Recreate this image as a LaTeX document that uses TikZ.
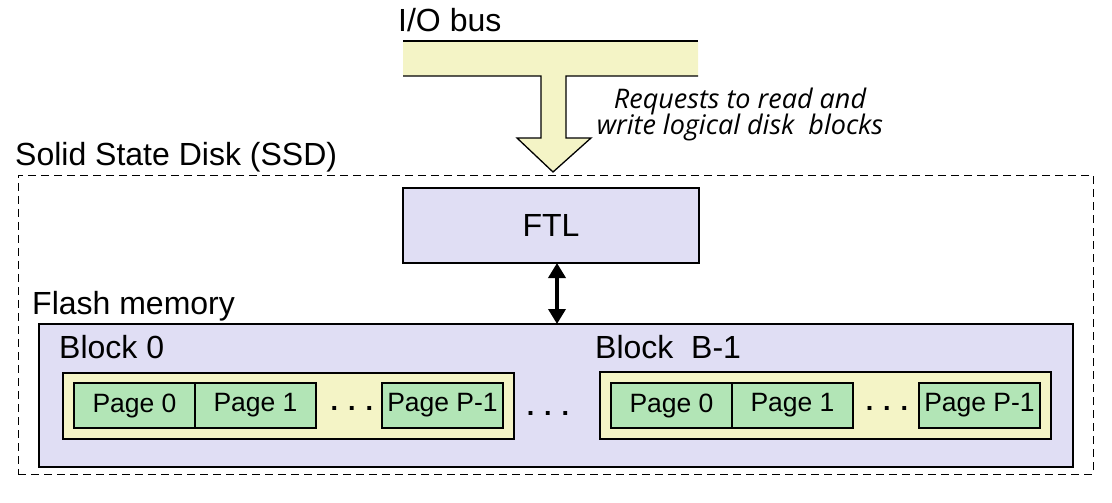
\documentclass[tikz,border=0pt]{standalone}
\usepackage{fontspec}
\setmainfont{Liberation Sans}
\newfontfamily\notefont{Open Sans}
\usetikzlibrary{arrows.meta}
\definecolor{lav}{HTML}{E0DEF4}
\definecolor{ylw}{HTML}{F4F4C6}
\definecolor{grn}{HTML}{B2E5B6}
\begin{document}
\begin{tikzpicture}[x=1pt,y=-1pt,
  box/.style={draw=black,line width=1.3pt,inner sep=0pt,outer sep=0pt,anchor=north west},
  lavbox/.style={box,fill=lav},
  ylwbox/.style={box,fill=ylw,minimum width=451pt},
  pagebox/.style={box,fill=grn,minimum width=121pt,minimum height=45pt,font=\fontsize{26.5}{30}\selectfont},
  lbl/.style={anchor=base west,inner sep=0pt,font=\fontsize{32}{38}\selectfont},
  dotsl/.style={inner sep=0pt,font=\fontsize{27}{30}\selectfont\bfseries},
  note/.style={inner sep=0pt,anchor=base,font=\notefont\itshape\fontsize{27}{32}\selectfont}]
\useasboundingbox (0,0) rectangle (1112,503);
% SSD dashed box
\node[box,line width=1pt,dash pattern=on 8pt off 5pt,minimum width=1075pt,minimum height=299pt] (ssd) at (18,175) {};
\node[lbl] (ssdlbl) at (15,165) {Solid State Disk (SSD)};
% I/O bus
\fill[ylw] (403,41) -- (698,41) -- (698,76) -- (566,76) -- (566,138) -- (591,138) -- (553,172) -- (517,138) -- (541,138) -- (541,76) -- (403,76) -- cycle;
\draw[line width=1.3pt] (403,41) -- (698,41);
\draw[line width=1.3pt,line join=miter] (403,76) -- (541,76) -- (541,138) -- (517,138) -- (553,172) -- (591,138) -- (566,138) -- (566,76) -- (698,76);
\node[lbl] (iolbl) at (398,32) {I/O bus};
\node[note] (req1) at (740,108) {Requests to read and};
\node[note] (req2) at (740,134) {write logical disk~~blocks};
% FTL
\node[lavbox,minimum width=296pt,minimum height=75pt,font=\fontsize{32}{38}\selectfont] (ftl) at (403,188) {FTL};
% Flash
\node[lavbox,minimum width=1034pt,minimum height=143pt] (flash) at (39,324) {};
\node[lbl] (flashlbl) at (32,314) {Flash memory};
\draw[line width=3.6pt,{Triangle[width=17pt,length=15pt]}-{Triangle[width=17pt,length=15pt]}]
  ([xshift=6pt]ftl.south) -- ([xshift=6pt]ftl.south |- flash.north);
% Block 0
\node[lbl] (b0lbl) at (59,358) {Block 0};
\node[ylwbox,minimum height=66pt] (b0) at (63,373) {};
\node[pagebox] (b0p0) at (74,383) {Page 0};
\node[pagebox] (b0p1) at (195,383) {Page 1};
\node[dotsl] (b0dots) at (352,408) {. . .};
\node[pagebox] (b0pl) at (382,383) {Page P-1};
% middle dots
\node[dotsl] (middots) at (548,413) {. . .};
% Block B-1
\node[lbl] (b1lbl) at (595,358) {Block~~B-1};
\node[ylwbox,minimum height=67pt] (b1) at (600,372) {};
\node[pagebox] (b1p0) at (611,383) {Page 0};
\node[pagebox] (b1p1) at (732,383) {Page 1};
\node[dotsl] (b1dots) at (887,408) {. . .};
\node[pagebox] (b1pl) at (919,383) {Page P-1};
\end{tikzpicture}
\end{document}
